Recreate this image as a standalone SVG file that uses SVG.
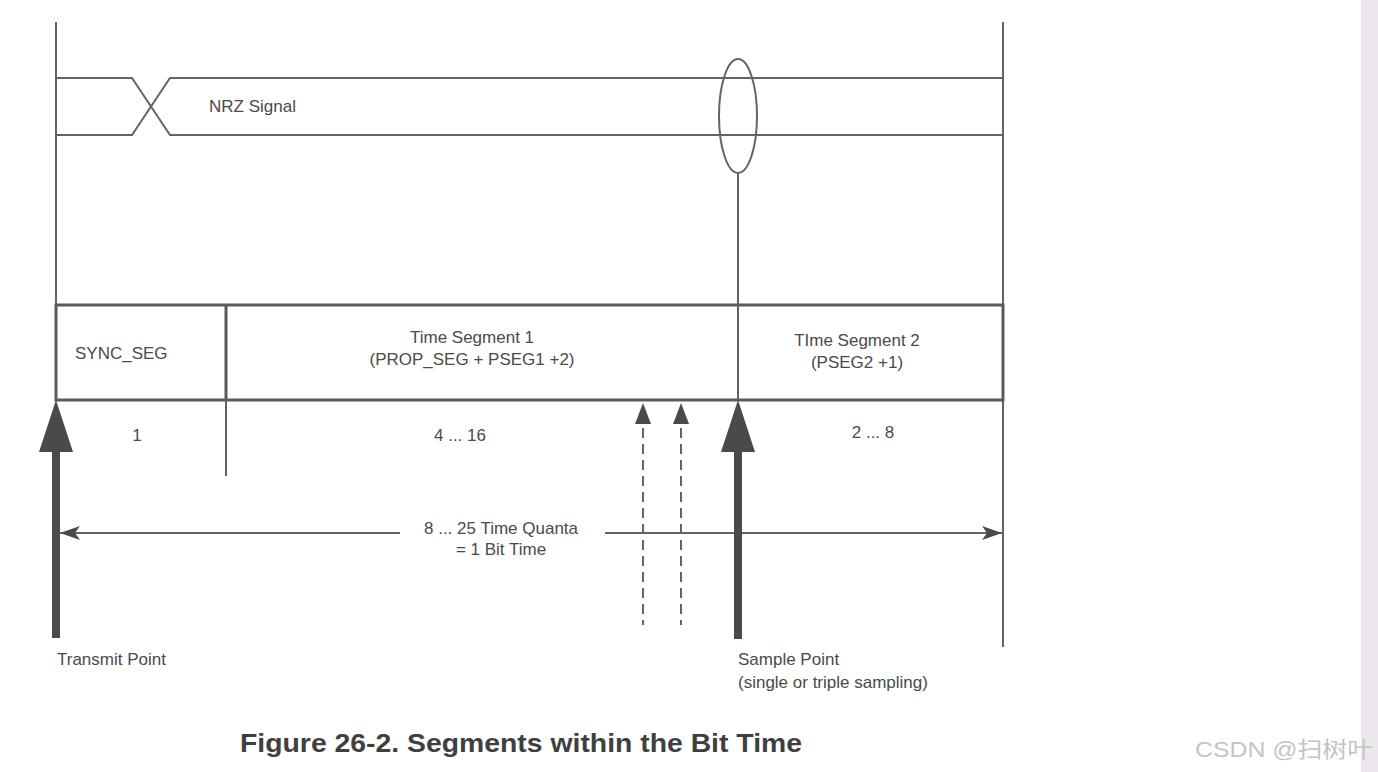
<svg xmlns="http://www.w3.org/2000/svg" width="1378" height="772" viewBox="0 0 1378 772">
<defs>
<style>
.ln{stroke:#646464;stroke-width:2;fill:none}
.bx{stroke:#5a5a5a;stroke-width:3;fill:none}
.t{font-family:"Liberation Sans",Arial,sans-serif;font-size:17px;fill:#4a4a4a}
.c{text-anchor:middle}
.dash{stroke:#646464;stroke-width:2;stroke-dasharray:10 6;fill:none}
.big{fill:#4a4a4a}
</style>
<marker id="ah" viewBox="0 0 20 14" refX="20" refY="7" markerWidth="20" markerHeight="14" markerUnits="userSpaceOnUse" orient="auto">
<path d="M0,0 L20,7 L0,14 L5,7 Z" fill="#4a4a4a"/>
</marker>
</defs>
<rect x="0" y="0" width="1378" height="772" fill="#ffffff"/>
<rect x="1361" y="0" width="17" height="772" fill="#ebe7ec"/>

<g id="frame">
<line class="ln" x1="56" y1="22" x2="56" y2="305"/>
<line class="ln" x1="1003" y1="22" x2="1003" y2="647"/>
</g>

<g id="nrz-signal">
<polyline class="ln" points="56,78 132,78 170,135 1003,135"/>
<polyline class="ln" points="56,135 132,135 170,78 1003,78"/>
<text class="t" x="209" y="112">NRZ Signal</text>
</g>

<g id="sample-ellipse">
<ellipse class="ln" cx="738" cy="116" rx="19" ry="57"/>
<line class="ln" x1="738" y1="173" x2="738" y2="305"/>
</g>

<g id="segments-box">
<rect class="bx" x="56" y="305" width="947" height="95"/>
<line class="bx" x1="226" y1="305" x2="226" y2="400"/>
<line class="ln" x1="226" y1="400" x2="226" y2="476"/>
<line class="ln" x1="738" y1="305" x2="738" y2="400"/>
</g>

<g id="sync-seg">
<text class="t" x="75" y="359">SYNC_SEG</text>
<text class="t c" x="137" y="441">1</text>
</g>

<g id="time-seg-1">
<text class="t c" x="472" y="343">Time Segment 1</text>
<text class="t c" x="472" y="365">(PROP_SEG + PSEG1 +2)</text>
<text class="t c" x="460" y="441">4 ... 16</text>
</g>

<g id="time-seg-2">
<text class="t c" x="857" y="346">TIme Segment 2</text>
<text class="t c" x="857" y="368">(PSEG2 +1)</text>
<text class="t c" x="873" y="438">2 ... 8</text>
</g>

<g id="connectors">
<line class="ln" x1="400" y1="533" x2="60" y2="533" marker-end="url(#ah)"/>
<line class="ln" x1="605" y1="533" x2="1002" y2="533" marker-end="url(#ah)"/>
<line class="dash" x1="643" y1="428" x2="643" y2="625"/>
<polygon class="big" points="643,403 635,424 651,424"/>
<line class="dash" x1="681" y1="428" x2="681" y2="625"/>
<polygon class="big" points="681,403 673,424 689,424"/>
</g>

<g id="bit-time-label">
<text class="t c" x="501" y="534">8 ... 25 Time Quanta</text>
<text class="t c" x="501" y="555">= 1 Bit Time</text>
</g>

<g id="transmit-point">
<rect class="big" x="52" y="448" width="8" height="190"/>
<polygon class="big" points="56,400 39,452 73,452"/>
<text class="t" x="57" y="665">Transmit Point</text>
</g>

<g id="sample-point">
<rect class="big" x="734" y="448" width="8" height="191"/>
<polygon class="big" points="738,400 721,452 755,452"/>
<text class="t" x="738" y="665">Sample Point</text>
<text class="t" x="738" y="688">(single or triple sampling)</text>
</g>

<text x="240" y="752" font-family="'Liberation Sans',Arial,sans-serif" font-weight="bold" font-size="26" fill="#3f3f3f" textLength="562" lengthAdjust="spacingAndGlyphs">Figure 26-2. Segments within the Bit Time</text>
<text x="1195" y="757" font-family="'Liberation Sans','Noto Sans CJK SC',sans-serif" font-size="22" fill="#c4c4c4" textLength="177" lengthAdjust="spacingAndGlyphs">CSDN @扫树叶</text>
</svg>
